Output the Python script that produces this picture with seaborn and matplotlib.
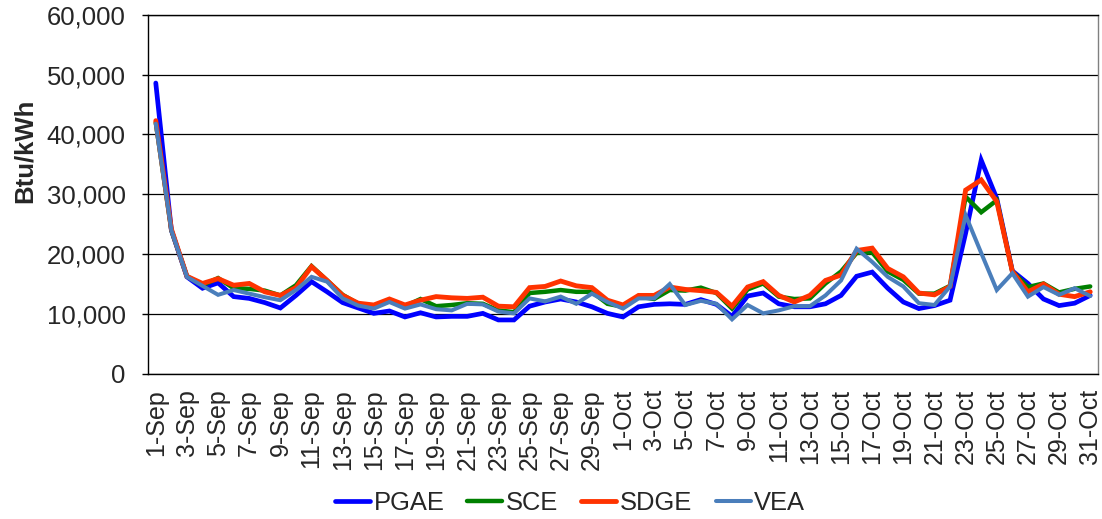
import matplotlib
matplotlib.use("Agg")
import matplotlib.pyplot as plt
from matplotlib.ticker import FuncFormatter, FixedLocator
import seaborn as sns
import pandas as pd
import numpy as np

# ---- data ----
dates = [f"{d}-Sep" for d in range(1, 31)] + [f"{d}-Oct" for d in range(1, 32)]

pgae = [48600, 24000, 16200, 14300, 15200, 12900, 12600, 11900, 11000, 13100,
        15400, 13700, 11900, 11000, 10100, 10500, 9500, 10200, 9500, 9600,
        9600, 10100, 9000, 9000, 11300, 12000, 12500, 12000, 11200, 10100,
        9500, 11200, 11600, 11700, 11600, 12400, 11600, 9600, 13000, 13500,
        11700, 11200, 11200, 11700, 13100, 16300, 17000, 14300, 12000, 10900,
        11400, 12300, 23500, 35700, 29300, 17200, 15100, 12500, 11400, 11800,
        13100]
sce = [42000, 24000, 16300, 14800, 16000, 14300, 14200, 13900, 13100, 14800,
       18000, 15600, 13200, 11700, 11300, 12400, 11300, 12500, 11300, 11500,
       11800, 11700, 10600, 10300, 13500, 13700, 14000, 13700, 13700, 11700,
       11200, 12900, 12500, 14000, 13900, 14400, 13500, 10900, 14100, 15100,
       12900, 12500, 12600, 15100, 17100, 20200, 20300, 17100, 15700, 13400,
       13400, 14700, 29600, 27000, 29000, 17100, 14500, 15100, 13600, 14200,
       14600]
sdge = [42300, 24200, 16300, 15100, 15900, 14800, 15100, 13700, 13100, 14400,
        17900, 15600, 13100, 11800, 11500, 12500, 11500, 12300, 12900, 12700,
        12600, 12800, 11300, 11200, 14400, 14600, 15500, 14700, 14400, 12300,
        11500, 13100, 13100, 14500, 14100, 13900, 13600, 11300, 14500, 15400,
        13100, 12000, 13100, 15600, 16500, 20600, 21000, 17600, 16200, 13500,
        13200, 14600, 30700, 32400, 28800, 17100, 13700, 15000, 13300, 12900,
        13700]
vea = [41800, 24000, 16200, 14700, 13200, 14000, 13400, 12800, 12300, 14000,
       16200, 15400, 12600, 11400, 10900, 12000, 10900, 11600, 10800, 10600,
       11700, 11600, 10400, 10100, 12600, 12100, 12900, 11700, 13400, 12000,
       10900, 12600, 12600, 15000, 11500, 12200, 11700, 9100, 11500, 10100,
       10600, 11300, 11300, 13100, 15600, 20900, 18700, 16200, 14600, 11800,
       11500, 14600, 26500, 20200, 14000, 16800, 12900, 14500, 13200, 14300,
       13000]

series_names = ["PGAE", "SCE", "SDGE", "VEA"]
series_vals = [pgae, sce, sdge, vea]
colors = ["#0000FF", "#008000", "#FF3300", "#4A7EBB"]
widths = [3.4, 3.2, 3.5, 2.9]
y_ticks = [0, 10000, 20000, 30000, 40000, 50000, 60000]

# ---- style ----
sns.set_style("white")
plt.rcParams["font.family"] = ["Liberation Sans", "DejaVu Sans"]

fig = plt.figure(figsize=(11.02, 5.19), dpi=100)
ax = fig.add_axes([148 / 1102, 1 - 373.8 / 519, (1098 - 148) / 1102, (373.8 - 14.8) / 519])

idx = np.arange(len(dates))
for name, vals, c, lw in zip(series_names, series_vals, colors, widths):
    df = pd.DataFrame({"x": idx, "y": vals})
    sns.lineplot(data=df, x="x", y="y", ax=ax, color=c, linewidth=lw, label=name,
                 solid_joinstyle="miter")

ax.set_xlim(-0.5, len(dates) - 0.5)
ax.set_ylim(0, 60000)
ax.set_yticks(y_ticks)
ax.yaxis.set_major_formatter(FuncFormatter(lambda v, p: f"{int(v):,}"))
ax.yaxis.grid(True, color="black", linewidth=0.9)
ax.set_axisbelow(True)

ax.set_xticks(idx[::2])
ax.set_xticklabels([dates[i] for i in idx[::2]], rotation=90)
ax.xaxis.set_minor_locator(FixedLocator(np.arange(-0.5, len(dates), 1.0)))
ax.tick_params(axis="x", which="major", length=0, pad=11, labelsize=18)
ax.tick_params(axis="x", which="minor", length=4, width=1, color="black", direction="out")
ax.tick_params(axis="y", which="major", length=4, width=1, color="black",
               direction="out", pad=12, labelsize=18.5, left=True)

ax.set_xlabel("")
ax.set_ylabel("Btu/kWh", fontsize=18.5, fontweight="bold")
ax.yaxis.set_label_coords(-0.117, 0.62)

for s in ["left", "bottom", "top"]:
    ax.spines[s].set_color("black")
    ax.spines[s].set_linewidth(1)
ax.spines["right"].set_color("#808080")
ax.spines["right"].set_linewidth(1)

ax.get_legend().remove()
handles, labels = ax.get_legend_handles_labels()
fig.legend(handles, labels, loc="center", bbox_to_anchor=(570 / 1102, 1 - 503 / 519),
           ncol=4, frameon=False, fontsize=18.4, handlelength=1.37, handletextpad=0.15,
           columnspacing=0.9, borderpad=0, borderaxespad=0)

fig.savefig("out.png", dpi=100)
